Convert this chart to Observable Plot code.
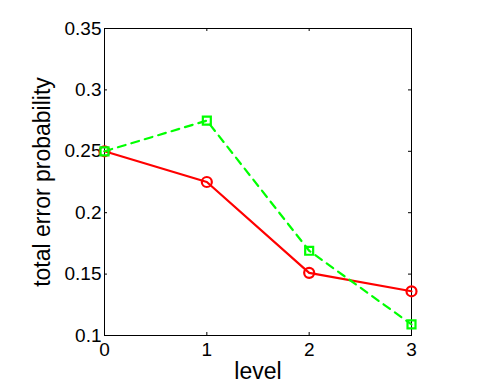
<!DOCTYPE html>
<html>
<head>
<meta charset="utf-8">
<script src="https://cdn.jsdelivr.net/npm/d3@7"></script>
<script src="https://cdn.jsdelivr.net/npm/@observablehq/plot@0.6"></script>
<style>
  html, body { margin: 0; padding: 0; background: #fff; }
</style>
</head>
<body>
<div id="chart"></div>
<script>
const levels = [0, 1, 2, 3];
const redValues = [0.25, 0.225, 0.151, 0.136];
const greenValues = [0.25, 0.275, 0.169, 0.109];
const xTicks = [0, 1, 2, 3];
const yTicks = [0.1, 0.15, 0.2, 0.25, 0.3, 0.35];
const xTickLabels = ["0", "1", "2", "3"];
const yTickLabels = ["0.1", "0.15", "0.2", "0.25", "0.3", "0.35"];
const xLabel = "level";
const yLabel = "total error probability";

const W = 498, H = 385;
const mL = 104, mR = 87, mT = 28, mB = 50;
const innerH = H - mT - mB;
const innerW = W - mL - mR;
const tick = 3;

const red = levels.map((x, i) => ({x, y: redValues[i]}));
const green = levels.map((x, i) => ({x, y: greenValues[i]}));

const plot = Plot.plot({
  width: W,
  height: H,
  marginLeft: mL,
  marginRight: mR,
  marginTop: mT,
  marginBottom: mB,
  style: {fontFamily: "'Liberation Sans', Arial, Helvetica, sans-serif", fontSize: "18px", background: "white", color: "black"},
  x: {domain: [0, 3]},
  y: {domain: [0.1, 0.35]},
  marks: [
    Plot.frame({stroke: "black", strokeWidth: 1}),
    // inward ticks on four sides
    Plot.ruleX(xTicks, {x: d => d, insetTop: innerH - tick, stroke: "black"}),
    Plot.ruleX(xTicks, {x: d => d, insetBottom: innerH - tick, stroke: "black"}),
    Plot.ruleY(yTicks, {y: d => d, insetRight: innerW - tick, stroke: "black"}),
    Plot.ruleY(yTicks, {y: d => d, insetLeft: innerW - tick, stroke: "black"}),
    Plot.axisX(xTicks, {tickSize: 0, tickPadding: 7, tickFormat: (d, i) => xTickLabels[i], fontSize: 19, label: null}),
    Plot.axisY(yTicks, {tickSize: 0, tickPadding: 3, tickFormat: (d, i) => yTickLabels[i], fontSize: 19, label: null}),
    Plot.text([xLabel], {frameAnchor: "bottom", textAnchor: "middle", lineAnchor: "bottom", dy: 43, fontSize: 23, fill: "black"}),
    Plot.text([yLabel], {frameAnchor: "left", textAnchor: "middle", rotate: -90, lineAnchor: "top", dx: -71, fontSize: 23, fill: "black"}),
    Plot.line(red, {x: "x", y: "y", stroke: "#ff0000", strokeWidth: 2.2}),
    Plot.dot(red, {x: "x", y: "y", r: 5, stroke: "#ff0000", strokeWidth: 2.2, fill: "none"}),
    Plot.line(green, {x: "x", y: "y", stroke: "#00ff00", strokeWidth: 2.2, strokeDasharray: "8,6"}),
    Plot.dot(green, {x: "x", y: "y", symbol: "square", r: 4.5, stroke: "#00ff00", strokeWidth: 2.2, fill: "none"})
  ]
});
document.getElementById("chart").appendChild(plot);
</script>
</body>
</html>
